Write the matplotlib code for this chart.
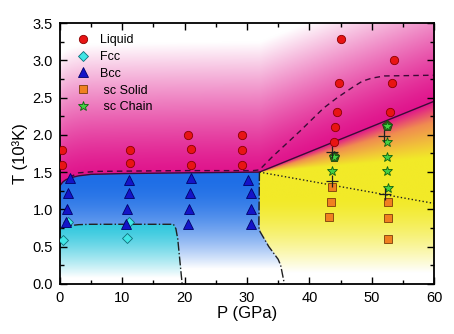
import numpy as np
import matplotlib
matplotlib.use("Agg")
from matplotlib import pyplot as plt
from matplotlib.ticker import MultipleLocator

plt.rcParams['font.family'] = ['Liberation Sans', 'DejaVu Sans']

# --- data (P in GPa, T in 10^3 K) ---
liquid_P = [0.3, 0.3, 11.3, 11.2, 20.6, 21.1, 21.1, 29.2, 29.2, 29.2,
            45.1, 44.7, 44.4, 44.1, 44.0, 53.6, 53.2, 52.9]
liquid_T = [1.80, 1.60, 1.80, 1.62, 2.00, 1.81, 1.60, 2.00, 1.80, 1.60,
            3.29, 2.70, 2.30, 2.10, 1.91, 3.00, 2.70, 2.30]

fcc_P = [0.5, 1.3, 10.7, 11.0]
fcc_T = [0.59, 0.83, 0.61, 0.83]

bcc_P = [1.6, 1.3, 1.2, 1.0, 11.1, 11.1, 10.8, 10.6, 21.0, 20.9, 20.7, 20.5,
         30.1, 30.6, 30.6, 30.6]
bcc_T = [1.42, 1.22, 1.01, 0.83, 1.40, 1.22, 1.01, 0.81, 1.42, 1.22, 1.01, 0.80,
         1.40, 1.22, 1.01, 0.81]

solid_P = [43.6, 43.4, 43.2, 52.6, 52.6, 52.6]
solid_T = [1.30, 1.10, 0.90, 1.10, 0.89, 0.60]

chain_P = [44.0, 43.6, 52.5, 52.5, 52.5, 52.5, 52.6]
chain_T = [1.70, 1.52, 2.12, 1.91, 1.70, 1.51, 1.29]
chain_mark_P = [44.0, 52.5]   # stars drawn on a dark pentagon
chain_mark_T = [1.70, 2.12]

cross_P = [43.7, 43.6, 51.9, 52.1]
cross_T = [1.77, 1.38, 1.98, 1.21]

# phase boundaries
melt_P = [0, 0.5, 1, 2, 3, 5, 10, 20, 32, 60]
melt_T = [1.32, 1.37, 1.40, 1.43, 1.45, 1.47, 1.48, 1.49, 1.50, 2.45]

upper_P = [1.5, 3, 6, 20, 31, 32, 34, 38.5, 42.3, 44.5, 46.8, 48.5, 50, 52, 60]
upper_T = [1.43, 1.49, 1.51, 1.52, 1.52, 1.53, 1.70, 2.05, 2.36, 2.50, 2.63, 2.72, 2.76, 2.79, 2.80]

chain_line_P = [32, 60]
chain_line_T = [1.50, 1.08]

fcc_line_P = [0, 0.5, 1.5, 3, 5, 18.2, 18.6, 18.9, 19.6]
fcc_line_T = [0.74, 0.76, 0.78, 0.795, 0.80, 0.80, 0.74, 0.60, 0.0]

sc_line_P = [32, 31.9, 32.1, 33.5, 35.0, 35.4, 36.0]
sc_line_T = [1.50, 0.76, 0.70, 0.50, 0.33, 0.25, 0.0]

# --- coloured background ---
P = np.linspace(0, 60, 601)
T = np.linspace(0, 3.5, 701)
PP, TT = np.meshgrid(P, T)

magenta = np.array([224, 20, 140]) / 255
blue = np.array([30, 110, 230]) / 255
cyan = np.array([50, 200, 222]) / 255
yellow = np.array([242, 234, 40]) / 255
orange = np.array([240, 140, 80]) / 255
white = np.ones(3)


def blend(c1, c2, f):
    f = np.clip(f, 0, 1)[..., None]
    return c1 * (1 - f) + c2 * f


melt = np.interp(PP, melt_P, melt_T)
dotted = np.interp(PP, chain_line_P, chain_line_T)
sc_left = np.interp(TT, sc_line_T[::-1], sc_line_P[::-1])
fcc_top = np.interp(PP, fcc_line_P, fcc_line_T)

above = TT >= melt
sc = (~above) & (PP >= sc_left)
fcc = (~above) & (~sc) & (TT < fcc_top)
bcc = (~above) & (~sc) & (~fcc)

img = np.ones(PP.shape + (3,))

liq_col = blend(magenta, white, np.clip((TT - melt) / 1.75, 0, 1) ** 1.3)
bcc_col = blend(blue, white, np.clip((1.45 - TT) / 1.25, 0, 1) ** 1.8)
fcc_col = blend(cyan, white, np.clip((0.8 - TT) / 0.72, 0, 1) ** 1.3)

s = np.clip((TT - dotted) / np.maximum(melt - dotted, 1e-6), 0, 1)
top_col = np.where((s < 0.45)[..., None], yellow,
                   np.where((s < 0.8)[..., None],
                            blend(yellow, orange, (s - 0.45) / 0.35),
                            blend(orange, magenta, (s - 0.8) / 0.2)))
sc_col = blend(top_col, white, np.clip((1.15 - TT) / 1.0, 0, 1) ** 1.4)

img[above] = liq_col[above]
img[bcc] = bcc_col[bcc]
img[fcc] = fcc_col[fcc]
img[sc] = sc_col[sc]

# --- figure ---
fig = plt.figure(figsize=(4.54, 3.34), dpi=100)
ax = fig.add_axes([0.132, 0.150, 0.824, 0.781])

ax.imshow(img, extent=[0, 60, 0, 3.5], origin='lower', aspect='auto',
          interpolation='bilinear', zorder=0)

line_col = '#3a0c36'
ax.plot(melt_P, melt_T, '-', color=line_col, lw=1.0, zorder=2)
ax.plot(upper_P, upper_T, '--', color=line_col, lw=1.0, dashes=(4, 3), zorder=2)
ax.plot(chain_line_P, chain_line_T, ':', color='#202020', lw=1.0, zorder=2)
ax.plot(fcc_line_P, fcc_line_T, '-.', color='#202020', lw=1.0, zorder=2)
ax.plot(sc_line_P, sc_line_T, '-.', color='#202020', lw=1.0, zorder=2)

ms = 6
ax.plot(liquid_P, liquid_T, 'o', ms=ms, mfc='#e81414', mec='#8a0000', mew=0.6,
        label='Liquid', zorder=3)
ax.plot(fcc_P, fcc_T, 'D', ms=5.5, mfc='#40e6e6', mec='#0e6e7a', mew=0.6,
        label='Fcc', zorder=3)
ax.plot(bcc_P, bcc_T, '^', ms=7, mfc='#1414c8', mec='#00006a', mew=0.6,
        label='Bcc', zorder=3)
ax.plot(solid_P, solid_T, 's', ms=5.8, mfc='#f08020', mec='#7a3c0a', mew=0.6,
        label=' sc Solid', zorder=3)
ax.plot(chain_mark_P, chain_mark_T, 'p', ms=8, mfc='#3c5a20', mec='#243a10',
        mew=0.6, zorder=3)
ax.plot(chain_P, chain_T, '*', ms=7.5, mfc='#44d044', mec='#106010', mew=0.6,
        label=' sc Chain', zorder=4)
ax.plot(cross_P, cross_T, '+', ms=8, color='#202020', mew=0.9, zorder=4)

ax.set_xlim(0, 60)
ax.set_ylim(0, 3.5)
ax.xaxis.set_major_locator(MultipleLocator(10))
ax.xaxis.set_minor_locator(MultipleLocator(5))
ax.yaxis.set_major_locator(MultipleLocator(0.5))
ax.yaxis.set_minor_locator(MultipleLocator(0.25))
ax.yaxis.set_major_formatter(matplotlib.ticker.FormatStrFormatter('%.1f'))
ax.tick_params(which='both', direction='in', top=True, right=True,
               labelsize=10.5, pad=5, width=1.0)
ax.tick_params(which='major', length=5)
ax.tick_params(which='minor', length=3)
for sp in ax.spines.values():
    sp.set_linewidth(1.3)

ax.set_xlabel('P (GPa)', fontsize=12, labelpad=1)
ax.set_ylabel('T (10³K)', fontsize=12, labelpad=3)

ax.legend(loc='upper left', frameon=False, fontsize=9, numpoints=1,
          handlelength=1.0, handletextpad=0.9, labelspacing=0.38,
          borderaxespad=0.4, bbox_to_anchor=(0.018, 0.995))

fig.savefig('out.png', dpi=100)
